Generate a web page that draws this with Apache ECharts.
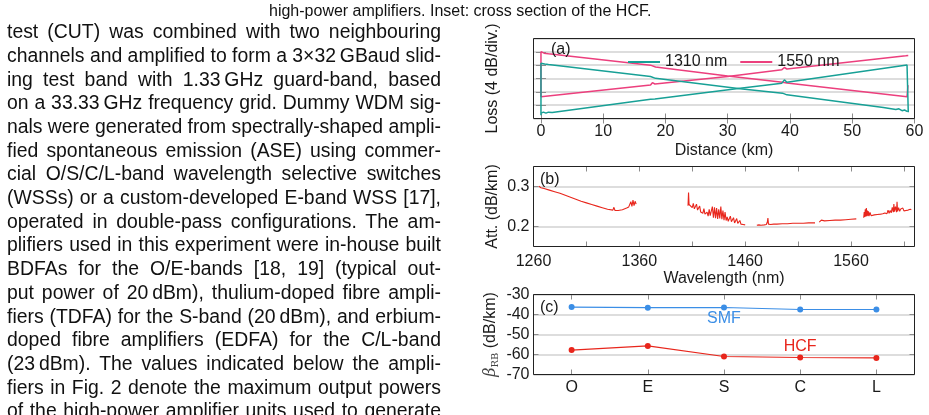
<!DOCTYPE html>
<html>
<head>
<meta charset="utf-8">
<script src="https://cdn.jsdelivr.net/npm/echarts@6/dist/echarts.min.js"></script>
<style>
  html, body { margin: 0; padding: 0; background: #fff; width: 929px; height: 415px; overflow: hidden; }
  #chart { position: absolute; left: 0; top: 0; width: 929px; height: 415px; }
  .txt { position: absolute; left: 7px; width: 434px; font-family: "Liberation Sans", Arial, sans-serif;
         font-size: 19.4px; line-height: 23.7px; white-space: nowrap; text-align: justify;
         text-align-last: justify; color: #111; }
  #cap { position: absolute; left: 269px; top: 2px; font-family: "Liberation Sans", Arial, sans-serif;
         font-size: 16px; line-height: 18px; white-space: nowrap; color: #111; }
</style>
</head>
<body>
<div id="chart"></div>
<div id="cap">high-power amplifiers. Inset: cross section of the HCF.</div>
<div id="text"></div>
<script>
// ---- page text ----
const bodyLines = [
  'test (CUT) was combined with two neighbouring',
  'channels and amplified to form a 3×32\u202FGBaud slid-',
  'ing test band with 1.33\u202FGHz guard-band, based',
  'on a 33.33\u202FGHz frequency grid. Dummy WDM sig-',
  'nals were generated from spectrally-shaped ampli-',
  'fied spontaneous emission (ASE) using commer-',
  'cial O/S/C/L-band wavelength selective switches',
  '(WSSs) or a custom-developed E-band WSS [17],',
  'operated in double-pass configurations. The am-',
  'plifiers used in this experiment were in-house built',
  'BDFAs for the O/E-bands [18, 19] (typical out-',
  'put power of 20\u202FdBm), thulium-doped fibre ampli-',
  'fiers (TDFA) for the S-band (20\u202FdBm), and erbium-',
  'doped fibre amplifiers (EDFA) for the C/L-band',
  '(23\u202FdBm). The values indicated below the ampli-',
  'fiers in Fig. 2 denote the maximum output powers',
  'of the high-power amplifier units used to generate'
];

// ---- (a) OTDR traces: [distance km, relative loss dB] ----
const distTicks = [0, 10, 20, 30, 40, 50, 60];
const loss1550Fwd = [[0,6.5],[0,20.05],[0.5,19.6],[1.2,19.4],[17.6,16.0],[17.9,16.35],[18.4,15.45],
  [30,12.75],[38.8,10.9],[39.1,11.45],[39.5,10.65],[58.8,6.55],[58.95,6.6],[58.95,10.0]];
const loss1550Rev = [[0,6.55],[17.6,10.05],[17.9,10.75],[18.3,10.35],[30,12.6],[38.7,14.65],
  [39.1,15.3],[39.5,14.85],[58.6,18.8],[58.85,19.4],[59,18.9]];
const loss1310Fwd = [[0,1.0],[0,16.55],[0.6,16.35],[1.2,16.2],[17.6,12.6],[17.9,12.8],[18.4,12.05],
  [32,8.95],[38.8,7.6],[39.1,8.1],[39.5,7.1],[55,3.3],[56,3.0],[57,2.7],[57.5,2.9],[58,2.35],
  [58.4,2.55],[58.8,2.15],[58.9,2.3]];
const loss1310Rev = [[0,1.6],[0.4,1.9],[0.8,1.6],[1.2,1.9],[1.8,1.8],[17.6,5.75],[17.9,6.35],
  [18.3,5.85],[32,9.05],[38.7,10.6],[39.1,11.6],[39.5,10.85],[58.8,16.05],[59,16.0],[59,1.9]];

// ---- (b) attenuation spectrum: [wavelength nm, dB/km] ----
const wlLabels = [1260, 1360, 1460, 1560];
const attTicks = [0.2, 0.3];
const attSeg1 = [[1265,0.301],[1267,0.297],[1270,0.295],[1275,0.291],[1280,0.287],[1285,0.283],
  [1290,0.278],[1295,0.273],[1300,0.268],[1305,0.263],[1310,0.259],[1315,0.255],[1320,0.251],
  [1325,0.247],[1330,0.243],[1335,0.241],[1336,0.248],[1337,0.240],[1340,0.240],[1344,0.242],
  [1348,0.246],[1350,0.249],[1351,0.246],[1352,0.262],[1353,0.250],[1354,0.266],[1355,0.252],
  [1356,0.263],[1357,0.256]];
const attSeg2 = [[1406,0.252],[1406.5,0.285],[1407,0.255],[1408,0.250],[1410,0.247],[1411,0.258],
  [1412,0.244],[1413,0.243],[1414,0.256],[1415,0.241],[1416,0.240],[1417,0.251],[1418,0.236],
  [1419,0.238],[1420,0.233],[1421,0.245],[1422,0.231],[1423,0.229],[1424,0.236],[1425,0.226],
  [1426,0.243],[1427,0.227],[1428,0.224],[1429,0.250],[1430,0.222],[1431,0.248],[1432,0.221],
  [1433,0.246],[1434,0.219],[1435,0.243],[1436,0.220],[1437,0.250],[1438,0.218],[1439,0.240],
  [1440,0.216],[1441,0.236],[1442,0.215],[1443,0.224],[1444,0.213],[1445,0.214],[1446,0.226],
  [1447,0.212],[1448,0.210],[1449,0.222],[1450,0.209],[1451,0.210],[1452,0.220],[1453,0.208],
  [1454,0.207],[1455,0.215],[1456,0.206],[1458,0.205],[1460,0.204]];
const attSeg3 = [[1471,0.203],[1473,0.204],[1475,0.203],[1478,0.204],[1480,0.205],[1481,0.212],
  [1481.5,0.221],[1482,0.206],[1484,0.205],[1487,0.206],[1490,0.206],[1495,0.207],[1500,0.207],
  [1505,0.208],[1510,0.208],[1515,0.208],[1520,0.209],[1526,0.209]];
const attSeg4 = [[1530,0.211],[1531,0.213],[1532,0.216],[1533,0.213],[1535,0.214],[1540,0.215],
  [1545,0.216],[1550,0.216],[1555,0.217],[1560,0.218],[1565,0.219]];
const attSeg5 = [[1572,0.222],[1572.5,0.236],[1573,0.224],[1573.5,0.243],[1574,0.225],[1574.5,0.246],
  [1575,0.226],[1575.5,0.240],[1576,0.227],[1576.5,0.238],[1577,0.226],[1578,0.235],[1579,0.227],
  [1580,0.231],[1582,0.229],[1585,0.230],[1588,0.231],[1590,0.232],[1592,0.234],[1594,0.232],
  [1595,0.241],[1596,0.233],[1597,0.240],[1598,0.234],[1599,0.248],[1600,0.236],[1600.5,0.256],
  [1601,0.237],[1602,0.250],[1603,0.236],[1603.5,0.262],[1604,0.238],[1605,0.247],[1606,0.238],
  [1607,0.244],[1608,0.239],[1609,0.246],[1610,0.239],[1611,0.244],[1612,0.240],[1614,0.241],
  [1616,0.243],[1617,0.242]];

// ---- (c) Rayleigh backscatter coefficient per band ----
const bands = ['O', 'E', 'S', 'C', 'L'];
const smfBeta = [-36.3, -36.6, -36.5, -37.5, -37.5];
const hcfBeta = [-57.8, -55.7, -61.0, -61.5, -61.7];
const smfTag = ['S', -42.2];
const hcfTag = ['C', -56];

const FONT = 'Liberation Sans';
const TEAL = '#17a096', PINK = '#ec3f7d', RED = '#e8261c', BLUE = '#3b8ee6';
const INK = '#1a1a1a';

// text lines, justified like the page
const host = document.getElementById('text');
const ctx = document.createElement('canvas').getContext('2d');
ctx.font = '19.4px "Liberation Sans"';
bodyLines.forEach((t, i) => {
  const d = document.createElement('div');
  d.className = 'txt';
  d.style.top = (20.1 + i * 23.7) + 'px';
  d.textContent = t;
  const w = ctx.measureText(t).width;
  if (w > 434) d.style.letterSpacing = ((434 - w) / t.length) + 'px';
  host.appendChild(d);
});

// chart
const chart = echarts.init(document.getElementById('chart'));
const inTick = { show: true, inside: true, length: 5, lineStyle: { color: '#8c8c8c', width: 1 } };
const grayGrid = { show: true, lineStyle: { color: '#d2d2d2', width: 1.5 } };
const lbl = extra => Object.assign({ show: true, color: INK, fontSize: 16, fontFamily: FONT }, extra);
const nameStyle = { fontSize: 16, color: INK, fontFamily: FONT };
const boxes = [
  { left: 533.5, top: 38.5, width: 381, height: 80 },
  { left: 533.5, top: 166.5, width: 381, height: 80 },
  { left: 533.5, top: 294.5, width: 381, height: 80 }
];

function lineSeries(name, data, color, xi, yi, width) {
  return { type: 'line', name, data, xAxisIndex: xi, yAxisIndex: yi, symbol: 'none',
           lineStyle: { color, width }, itemStyle: { color }, animation: false };
}

const option = {
  animation: false,
  textStyle: { fontFamily: FONT },
  grid: boxes.map(b => Object.assign({ show: false, outerBoundsMode: 'none' }, b)),
  legend: {
    data: ['1310 nm', '1550 nm'], left: 623, top: 49, icon: 'rect', itemWidth: 32, itemHeight: 2,
    itemGap: 13, selectedMode: false, textStyle: { fontSize: 16, color: INK, fontFamily: FONT }
  },
  xAxis: [
    { gridIndex: 0, type: 'value', min: -1.2, max: 60, position: 'bottom', axisLine: { show: false },
      axisTick: Object.assign({ customValues: distTicks }, inTick),
      axisLabel: lbl({ margin: 5, customValues: distTicks, formatter: v => String(v) }),
      splitLine: { show: false },
      name: 'Distance (km)', nameLocation: 'middle', nameGap: 24, nameTextStyle: nameStyle },
    { gridIndex: 0, type: 'value', min: -1.2, max: 60, position: 'top', axisLine: { show: false },
      axisTick: Object.assign({ customValues: distTicks }, inTick), axisLabel: { show: false },
      splitLine: { show: false } },
    { gridIndex: 1, type: 'value', min: 1260, max: 1620, interval: 50, position: 'bottom',
      axisLine: { show: false }, axisTick: inTick,
      axisLabel: lbl({ margin: 7, customValues: wlLabels, formatter: v => String(v) }),
      splitLine: { show: false },
      name: 'Wavelength (nm)', nameLocation: 'middle', nameGap: 24, nameTextStyle: nameStyle },
    { gridIndex: 1, type: 'value', min: 1260, max: 1620, interval: 50, position: 'top',
      axisLine: { show: false }, axisTick: inTick, axisLabel: { show: false }, splitLine: { show: false } },
    { gridIndex: 2, type: 'category', data: bands, position: 'bottom', boundaryGap: true,
      axisLine: { show: false }, axisTick: Object.assign({ alignWithLabel: true }, inTick),
      axisLabel: lbl({ margin: 5, interval: 0 }), splitLine: { show: false } },
    { gridIndex: 2, type: 'category', data: bands, position: 'top', boundaryGap: true,
      axisLine: { show: false }, axisTick: Object.assign({ alignWithLabel: true }, inTick),
      axisLabel: { show: false }, splitLine: { show: false } }
  ],
  yAxis: [
    { gridIndex: 0, type: 'value', min: 0, max: 24, interval: 4, position: 'left',
      axisLine: { show: false }, axisTick: inTick, axisLabel: { show: false }, splitLine: grayGrid,
      name: 'Loss (4 dB/div.)', nameLocation: 'middle', nameGap: 33, nameMoveOverlap: false,
      nameTextStyle: nameStyle },
    { gridIndex: 0, type: 'value', min: 0, max: 24, interval: 4, position: 'right',
      axisLine: { show: false }, axisTick: inTick, axisLabel: { show: false }, splitLine: { show: false } },
    { gridIndex: 1, type: 'value', min: 0.15, max: 0.35, position: 'left', axisLine: { show: false },
      axisTick: Object.assign({ customValues: attTicks }, inTick),
      axisLabel: lbl({ margin: 4, customValues: attTicks, formatter: v => v.toFixed(1) }),
      splitLine: grayGrid, name: 'Att. (dB/km)', nameLocation: 'middle', nameGap: 33,
      nameMoveOverlap: false, nameTextStyle: nameStyle },
    { gridIndex: 1, type: 'value', min: 0.15, max: 0.35, position: 'right', axisLine: { show: false },
      axisTick: Object.assign({ customValues: attTicks }, inTick), axisLabel: { show: false },
      splitLine: { show: false } },
    { gridIndex: 2, type: 'value', min: -70, max: -30, interval: 10, position: 'left',
      axisLine: { show: false }, axisTick: inTick, axisLabel: lbl({ margin: 4 }), splitLine: grayGrid,
      name: '{b|β}{s|RB} (dB/km)', nameLocation: 'middle', nameGap: 33, nameMoveOverlap: false,
      nameTextStyle: Object.assign({
        rich: {
          b: { fontFamily: 'DejaVu Serif', fontStyle: 'italic', fontSize: 16, color: '#444', lineHeight: 20, verticalAlign: 'middle' },
          s: { fontFamily: 'DejaVu Serif', fontSize: 10, color: '#444', lineHeight: 20, verticalAlign: 'bottom' }
        }
      }, nameStyle) },
    { gridIndex: 2, type: 'value', min: -70, max: -30, interval: 10, position: 'right',
      axisLine: { show: false }, axisTick: inTick, axisLabel: { show: false }, splitLine: { show: false } }
  ],
  series: [
    lineSeries('1550 nm', loss1550Fwd, PINK, 0, 0, 1.5),
    lineSeries('1550 nm', loss1550Rev, PINK, 0, 0, 1.5),
    lineSeries('1310 nm', loss1310Fwd, TEAL, 0, 0, 1.5),
    lineSeries('1310 nm', loss1310Rev, TEAL, 0, 0, 1.5),
    lineSeries('att', attSeg1, RED, 2, 2, 1.1),
    lineSeries('att', attSeg2, RED, 2, 2, 1.1),
    lineSeries('att', attSeg3, RED, 2, 2, 1.1),
    lineSeries('att', attSeg4, RED, 2, 2, 1.1),
    lineSeries('att', attSeg5, RED, 2, 2, 1.1),
    Object.assign(lineSeries('SMF', smfBeta, BLUE, 4, 4, 1.2), { symbol: 'circle', symbolSize: 6 }),
    Object.assign(lineSeries('HCF', hcfBeta, RED, 4, 4, 1.2), { symbol: 'circle', symbolSize: 6 })
  ]
};
chart.setOption(option);

// frames, panel tags and in-plot labels
const smfPx = chart.convertToPixel({ xAxisIndex: 4, yAxisIndex: 4 }, smfTag);
const hcfPx = chart.convertToPixel({ xAxisIndex: 4, yAxisIndex: 4 }, hcfTag);
const tag = (text, x, y) => ({ type: 'text', z: 101, style: { text, x, y, fill: INK,
  font: '16px "Liberation Sans"', align: 'left', verticalAlign: 'middle' } });
chart.setOption({
  graphic: boxes.map(b => ({ type: 'rect', z: 100, silent: true,
      shape: { x: b.left, y: b.top, width: b.width, height: b.height },
      style: { fill: null, stroke: '#222', lineWidth: 1 } }))
    .concat([
      tag('(a)', 551, 50), tag('(b)', 540, 180), tag('(c)', 540, 308),
      { type: 'text', z: 101, style: { text: 'SMF', x: smfPx[0], y: smfPx[1], fill: BLUE,
        font: '16px "Liberation Sans"', align: 'center', verticalAlign: 'middle' } },
      { type: 'text', z: 101, style: { text: 'HCF', x: hcfPx[0], y: hcfPx[1], fill: RED,
        font: '16px "Liberation Sans"', align: 'center', verticalAlign: 'middle' } }
    ])
});
</script>
</body>
</html>
